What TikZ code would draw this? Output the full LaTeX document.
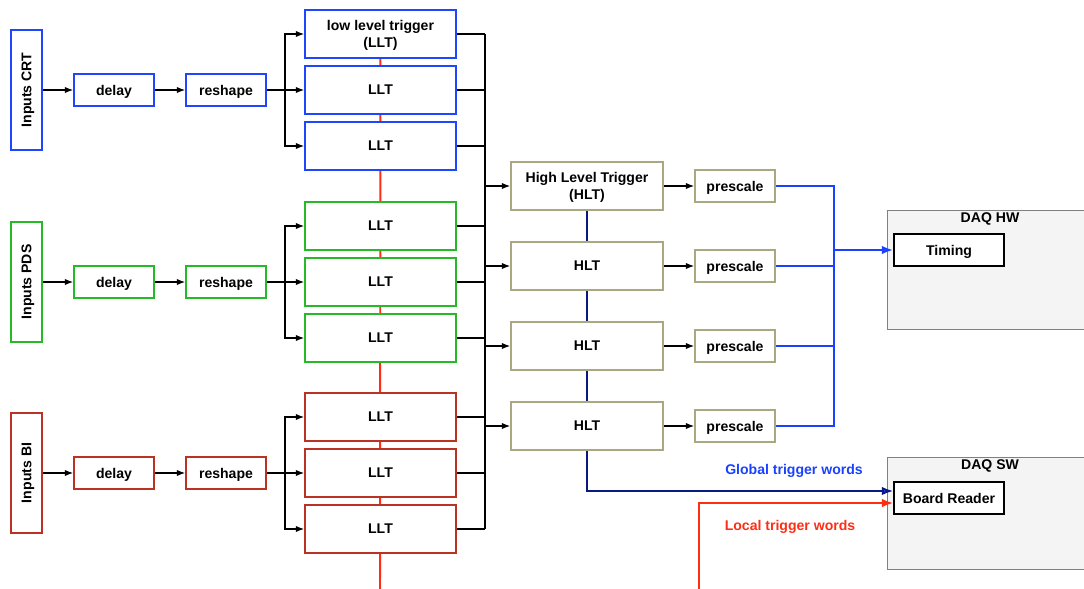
\documentclass[tikz,border=0pt]{standalone}
\usepackage{fontspec}
\setmainfont{Liberation Sans}
\usetikzlibrary{arrows.meta,backgrounds}

\definecolor{crtblue}{RGB}{30,70,255}
\definecolor{pdsgreen}{RGB}{40,185,40}
\definecolor{bired}{RGB}{185,50,35}
\definecolor{hltkhaki}{RGB}{170,168,128}
\definecolor{trigred}{RGB}{255,45,20}
\definecolor{trignavy}{RGB}{10,25,130}
\definecolor{trigblue}{RGB}{25,65,255}
\definecolor{daqgray}{RGB}{244,244,244}

\tikzset{
    box/.style={draw, fill=white, line width=1.1pt, inner sep=0pt, align=center,
        text depth=0pt, font=\bfseries\fontsize{10}{12}\selectfont},
    inbox/.style={box, rotate=90, minimum width=3cm, minimum height=0.775cm},
    smallbox/.style={box, minimum width=2cm, minimum height=0.8cm},
    lltbox/.style={box, minimum width=3.775cm, minimum height=1.2cm},
    hltbox/.style={box, draw=hltkhaki, minimum width=3.8cm, minimum height=1.2cm},
    daqbox/.style={draw=gray, fill=daqgray, line width=0.6pt, minimum width=5.15cm},
    daqtitle/.style={font=\bfseries\fontsize{10}{12}\selectfont, inner sep=0pt},
    wordlabel/.style={font=\bfseries\fontsize{10}{12}\selectfont, inner sep=0pt},
    wire/.style={line width=0.8pt},
    arrow/.style={wire, -{Latex[length=6pt,width=4.5pt]}},
}

\begin{document}
\begin{tikzpicture}[x=0.025cm, y=-0.025cm]
    \useasboundingbox (0,0) rectangle (1084,589);

    % input chains with their low level triggers
    \foreach \grp/\col/\yc/\lab/\first in {crt/crtblue/90/CRT/{low level trigger\\(LLT)},
                                          pds/pdsgreen/282/PDS/LLT,
                                          bi/bired/473/BI/LLT} {
        \node[inbox, draw=\col] (in-\grp) at (26.5,\yc) {Inputs \lab};
        \node[smallbox, draw=\col] (delay-\grp) at (114,\yc) {delay};
        \node[smallbox, draw=\col] (reshape-\grp) at (226,\yc) {reshape};
        \node[lltbox, draw=\col] (llt-\grp-1) at (380.5,\yc-56) {\first};
        \node[lltbox, draw=\col] (llt-\grp-2) at (380.5,\yc) {LLT};
        \node[lltbox, draw=\col] (llt-\grp-3) at (380.5,\yc+56) {LLT};
        \coordinate (br-\grp) at (285,\yc);
        \draw[arrow] (in-\grp.south) -- (delay-\grp.west);
        \draw[arrow] (delay-\grp.east) -- (reshape-\grp.west);
        \draw[wire] (reshape-\grp.east) -- (br-\grp);
        \foreach \i in {1,2,3} {
            \draw[arrow] (br-\grp) |- (llt-\grp-\i.west);
            \draw[wire] (llt-\grp-\i.east) -- (485,\yc-112+56*\i);
        }
    }
    \draw[wire] (485,34) -- (485,529);

    % high level triggers and prescales
    \foreach \i/\yc/\first in {1/186/{High Level Trigger\\(HLT)}, 2/266/HLT, 3/346/HLT, 4/426/HLT} {
        \node[hltbox] (hlt-\i) at (587,\yc) {\first};
        \node[smallbox, draw=hltkhaki] (pre-\i) at (735,\yc) {prescale};
        \draw[arrow] (485,\yc) -- (hlt-\i.west);
        \draw[arrow] (hlt-\i.east) -- (pre-\i.west);
        \draw[trigblue, line width=1.6pt] (pre-\i.east) -- (834,\yc);
    }
    \draw[trigblue, line width=1.6pt] (834,185) -- (834,427);

    % DAQ
    \node[daqbox, minimum height=2.975cm] (daq-hw) at (990,269.5) {};
    \node[daqtitle] at (990,219) {DAQ HW};
    \node[smallbox, draw=black, minimum width=2.75cm] (timing) at (949,250) {Timing};
    \node[daqbox, minimum height=2.8cm] (daq-sw) at (990,513) {};
    \node[daqtitle] at (990,466) {DAQ SW};
    \node[smallbox, draw=black, minimum width=2.75cm] (board) at (949,498) {Board Reader};

    \draw[trigblue, line width=1.6pt, -{Latex[length=8pt,width=6pt]}] (834,250) -- (timing.west);

    \coordinate (local-start) at (699,589);
    \draw[trignavy, line width=1.4pt, -{Latex[length=8pt,width=6pt,fill=trigblue]}]
        (hlt-4.south) |- ([yshift=0.175cm]board.west);
    \draw[trigred, line width=1.4pt, -{Latex[length=8pt,width=6pt]}]
        (local-start) |- ([yshift=-0.125cm]board.west);

    \node[wordlabel, text=trigblue] at (794,471) {Global trigger words};
    \node[wordlabel, text=trigred] at (790,527) {Local trigger words};

    % red and navy trunks behind the boxes
    \begin{scope}[on background layer]
        \draw[trigred, line width=1.4pt] (llt-crt-1.center) -- (380,589);
        \draw[trignavy, line width=1.4pt] (hlt-1.center) -- (hlt-4.center);
    \end{scope}
\end{tikzpicture}
\end{document}
